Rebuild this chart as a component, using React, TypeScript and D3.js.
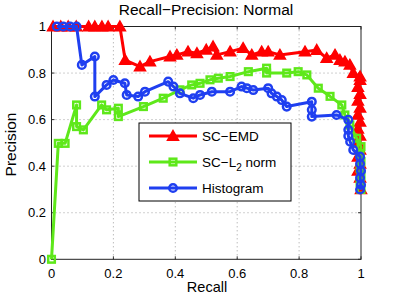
import * as d3 from 'd3'

const ticks = [0, 0.2, 0.4, 0.6, 0.8, 1]
const tickLabels = ['0', '0.2', '0.4', '0.6', '0.8', '1']

const emdRecall = [0.005, 0.03, 0.054, 0.08, 0.12, 0.14, 0.163, 0.183, 0.221, 0.238, 0.286, 0.318, 0.383, 0.405, 0.441, 0.47, 0.5, 0.522, 0.534, 0.577, 0.619, 0.647, 0.679, 0.7, 0.738, 0.819, 0.857, 0.889, 0.916, 0.932, 0.948, 0.964, 0.975, 0.997, 0.997, 0.99, 0.997, 0.99, 0.997, 0.99, 0.997, 0.99, 0.997, 0.99, 0.997, 0.99, 0.997, 0.99, 0.997, 1.0]
const emdPrecision = [1, 1, 1, 1, 1, 1, 1, 1, 1, 0.856, 0.828, 0.849, 0.871, 0.878, 0.892, 0.885, 0.9, 0.914, 0.878, 0.892, 0.907, 0.878, 0.892, 0.892, 0.878, 0.892, 0.899, 0.864, 0.878, 0.856, 0.849, 0.835, 0.8, 0.785, 0.77, 0.74, 0.71, 0.68, 0.65, 0.62, 0.59, 0.56, 0.53, 0.5, 0.47, 0.44, 0.41, 0.38, 0.35, 0.3]

const l2Recall = [0, 0.022, 0.044, 0.081, 0.081, 0.103, 0.162, 0.178, 0.216, 0.216, 0.297, 0.361, 0.415, 0.453, 0.48, 0.512, 0.539, 0.577, 0.636, 0.695, 0.695, 0.76, 0.797, 0.825, 0.862, 0.9, 0.938, 0.948, 0.964, 0.986, 1.0, 0.997, 1.0, 0.997, 1.0, 0.997, 1.0]
const l2Precision = [0, 0.498, 0.498, 0.663, 0.57, 0.556, 0.663, 0.642, 0.649, 0.613, 0.656, 0.692, 0.728, 0.749, 0.756, 0.771, 0.778, 0.785, 0.806, 0.821, 0.8, 0.8, 0.806, 0.792, 0.735, 0.7, 0.663, 0.62, 0.577, 0.52, 0.484, 0.45, 0.42, 0.39, 0.36, 0.33, 0.3]

const histRecall = [0.017, 0.038, 0.06, 0.081, 0.098, 0.14, 0.14, 0.178, 0.2, 0.237, 0.243, 0.28, 0.302, 0.377, 0.394, 0.415, 0.458, 0.48, 0.518, 0.577, 0.614, 0.631, 0.652, 0.7, 0.711, 0.728, 0.744, 0.76, 0.841, 0.841, 0.841, 0.921, 0.959, 0.959, 0.959, 0.965, 0.975, 0.997, 0.997, 1.0, 0.997, 1.0, 0.997]
const histPrecision = [1, 1, 1, 1, 0.835, 0.871, 0.699, 0.749, 0.77, 0.756, 0.706, 0.699, 0.72, 0.763, 0.742, 0.713, 0.692, 0.706, 0.72, 0.72, 0.742, 0.735, 0.727, 0.735, 0.713, 0.699, 0.684, 0.656, 0.677, 0.642, 0.613, 0.62, 0.599, 0.556, 0.53, 0.505, 0.47, 0.441, 0.41, 0.38, 0.35, 0.32, 0.3]

const seriesNames = ['SC\u2212EMD', 'SC\u2212L', 'Histogram']
const colors = ['#ff0000', '#5ee81a', '#1f3ff0']

const font = 'Liberation Sans, Arial, Helvetica, sans-serif'

const App = () => {
  const width = 399
  const height = 302
  const x = d3.scaleLinear().domain([0, 1]).range([51.5, 361])
  const y = d3.scaleLinear().domain([0, 1]).range([259.3, 26.5])

  const series = [
    { r: emdRecall, p: emdPrecision, color: colors[0], marker: 'tri' },
    { r: l2Recall, p: l2Precision, color: colors[1], marker: 'sq' },
    { r: histRecall, p: histPrecision, color: colors[2], marker: 'circ' },
  ]

  const lineGen = d3
    .line<[number, number]>()
    .x(d => x(d[0]))
    .y(d => y(d[1]))

  const marker = (kind: string, cx: number, cy: number, color: string, key: string | number) => {
    if (kind === 'tri') {
      const s = 5.5
      return (
        <path
          key={key}
          d={`M${cx},${cy - s} L${cx + s},${cy + s * 0.75} L${cx - s},${cy + s * 0.75} Z`}
          fill={color}
          stroke={color}
          strokeWidth={1.5}
        />
      )
    }
    if (kind === 'sq') {
      const s = 3.3
      return (
        <rect key={key} x={cx - s} y={cy - s} width={2 * s} height={2 * s} fill='none' stroke={color} strokeWidth={2.5} />
      )
    }
    return <circle key={key} cx={cx} cy={cy} r={3.8} fill='none' stroke={color} strokeWidth={2.5} />
  }

  const inner = [0.2, 0.4, 0.6, 0.8]

  return (
    <svg width={width} height={height} style={{ position: 'absolute', left: 0, top: 0 }} fontFamily={font}>
      <rect width={width} height={height} fill='#fff' />
      {/* grid */}
      {inner.map(t => (
        <g key={t} stroke='#888' strokeWidth={0.8} strokeDasharray='1,3'>
          <line x1={x(t)} x2={x(t)} y1={y(0)} y2={y(1)} />
          <line x1={x(0)} x2={x(1)} y1={y(t)} y2={y(t)} />
        </g>
      ))}
      {/* ticks */}
      {ticks.map(t => (
        <g key={t} stroke='#000' strokeWidth={0.8}>
          <line x1={x(t)} x2={x(t)} y1={y(0)} y2={y(0) - 3} />
          <line x1={x(t)} x2={x(t)} y1={y(1)} y2={y(1) + 3} />
          <line x1={x(0)} x2={x(0) + 3} y1={y(t)} y2={y(t)} />
          <line x1={x(1)} x2={x(1) - 3} y1={y(t)} y2={y(t)} />
        </g>
      ))}
      <rect x={x(0)} y={y(1)} width={x(1) - x(0)} height={y(0) - y(1)} fill='none' stroke='#222' strokeWidth={1} />
      {/* series */}
      {series.map((s, i) => {
        const pts = s.r.map((r, j) => [r, s.p[j]] as [number, number])
        return (
          <g key={i}>
            <path d={lineGen(pts) ?? ''} fill='none' stroke={s.color} strokeWidth={3} strokeLinejoin='round' />
            {pts.map((d, j) => marker(s.marker, x(d[0]), y(d[1]), s.color, j))}
          </g>
        )
      })}
      {/* tick labels */}
      {ticks.map((t, i) => (
        <text key={'x' + t} x={x(t)} y={278} fontSize={13} textAnchor='middle'>
          {tickLabels[i]}
        </text>
      ))}
      {ticks.map((t, i) => (
        <text key={'y' + t} x={46} y={y(t) + 4.5} fontSize={13} textAnchor='end'>
          {tickLabels[i]}
        </text>
      ))}
      <text x={206} y={15} fontSize={15.5} textAnchor='middle'>
        Recall{'\u2212'}Precision: Normal
      </text>
      <text x={207} y={292} fontSize={14.5} textAnchor='middle'>
        Recall
      </text>
      <text transform='translate(15.5,144.5) rotate(-90)' fontSize={15.5} textAnchor='middle'>
        Precision
      </text>
      {/* legend */}
      <rect x={139} y={123} width={152} height={78} fill='#fff' stroke='#000' strokeWidth={1} />
      {series.map((s, i) => {
        const ly = 136 + i * 26
        return (
          <g key={'lg' + i}>
            <line x1={149} x2={197} y1={ly} y2={ly} stroke={s.color} strokeWidth={3} />
            {marker(s.marker, 173, ly, s.color, 'm')}
            <text x={202} y={ly + 5} fontSize={13.5}>
              {seriesNames[i]}
              {i === 1 && (
                <>
                  <tspan fontSize={10} dy={4}>
                    2
                  </tspan>
                  <tspan dy={-4}> norm</tspan>
                </>
              )}
            </text>
          </g>
        )
      })}
    </svg>
  )
}

export default App
